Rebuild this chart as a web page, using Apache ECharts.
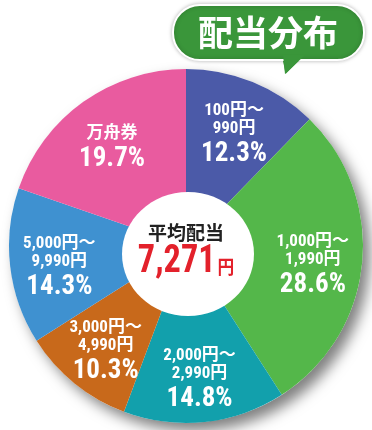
<!DOCTYPE html>
<html>
<head>
<meta charset="utf-8">
<script src="https://cdn.jsdelivr.net/npm/echarts@6/dist/echarts.min.js"></script>
<style>
html,body{margin:0;padding:0;background:#fff;}
#chart{width:372px;height:430px;}
</style>
</head>
<body>
<div id="chart"></div>
<script>
const categories = ['100円～990円', '1,000円～1,990円', '2,000円～2,990円', '3,000円～4,990円', '5,000円～9,990円', '万舟券'];
const shares = [12.3, 28.6, 14.8, 10.3, 14.3, 19.7];
const colors = ['#4b5aa8', '#54b74a', '#12a0ac', '#c8691b', '#3f91d0', '#e95b9f'];
const chartTitle = '配当分布';
const centerTitle = '平均配当';
const avgPayout = '7,271';
const avgUnit = '円';

const NARROW = "'Roboto Condensed', 'Noto Sans CJK JP', sans-serif";
const CJK = "'Noto Sans CJK JP', sans-serif";

const data = categories.map((c, i) => ({ name: c, value: shares[i], itemStyle: { color: colors[i] } }));
const CENTER = [186, 246];
const LABEL_CENTER = [186, 254];
const R = 177;

const chart = echarts.init(document.getElementById('chart'), null, { renderer: 'canvas' });
chart.setOption({
  animation: false,
  series: [
    {
      type: 'pie', silent: true, z: 1,
      center: CENTER, radius: [0, R],
      label: { show: false }, labelLine: { show: false },
      emphasis: { disabled: true },
      data: [{ value: 1, itemStyle: { color: '#fff', shadowColor: 'rgba(0,0,0,0.5)', shadowBlur: 14, shadowOffsetX: 7, shadowOffsetY: 8 } }]
    },
    {
      type: 'pie', silent: true, z: 2,
      center: CENTER, radius: [0, R],
      startAngle: 90, clockwise: true,
      label: { show: false }, labelLine: { show: false },
      emphasis: { disabled: true },
      data: data
    },
    {
      type: 'pie', silent: true, z: 5,
      center: LABEL_CENTER, radius: [72, R],
      startAngle: 90, clockwise: true,
      avoidLabelOverlap: false,
      labelLine: { show: false },
      emphasis: { disabled: true },
      itemStyle: { color: 'rgba(0,0,0,0)' },
      label: {
        show: true, position: 'inside', rotate: 0,
        formatter: function (p) {
          const n = p.name;
          const i = n.indexOf('～');
          const top = i >= 0 ? '{r|' + n.slice(0, i + 1) + '}\n{r|' + n.slice(i + 1) + '}' : '{r|' + n + '}';
          return top + '\n{p|' + p.value.toFixed(1) + '%}';
        },
        rich: {
          r: { color: '#fff', fontFamily: NARROW, fontWeight: 'bold', fontSize: 17, lineHeight: 18, align: 'center' },
          p: { color: '#fff', fontFamily: NARROW, fontWeight: 'bold', fontSize: 27, lineHeight: 32, align: 'center' }
        }
      },
      data: categories.map((c, i) => ({ name: c, value: shares[i] }))
    }
  ],
  graphic: [
    { type: 'ellipse', z: 100, silent: true, shape: { cx: 188, cy: 254, rx: 66, ry: 62 }, style: { fill: '#fff' } },
    { type: 'text', z: 101, silent: true, x: 186, y: 233,
      style: { text: centerTitle, fill: '#222', font: 'bold 19px ' + CJK, align: 'center', verticalAlign: 'middle' } },
    { type: 'text', z: 101, silent: true, x: 186, y: 262, scaleX: 0.88,
      style: {
        text: '{n|' + avgPayout + '}{u|' + avgUnit + '}', align: 'center', verticalAlign: 'middle',
        rich: {
          n: { fill: '#e3212b', fontFamily: NARROW, fontWeight: 'bold', fontSize: 39, verticalAlign: 'bottom' },
          u: { fill: '#e3212b', fontFamily: CJK, fontWeight: 'bold', fontSize: 19, verticalAlign: 'bottom', padding: [0, 0, 5, 2] }
        }
      } },
    { type: 'polygon', z: 110, silent: true, shape: { points: [[281, 56], [307, 54], [285, 76]] },
      style: { fill: '#3a963a', stroke: '#fff', lineWidth: 2 } },
    { type: 'rect', z: 111, silent: true, shape: { x: 173, y: 5, width: 191, height: 55, r: 27 },
      style: { fill: '#3a963a', stroke: '#fff', lineWidth: 2, shadowColor: 'rgba(0,0,0,0.25)', shadowBlur: 4 } },
    { type: 'polygon', z: 112, silent: true, shape: { points: [[283, 55], [305, 55], [285, 74]] },
      style: { fill: '#3a963a' } },
    { type: 'text', z: 113, silent: true, x: 268, y: 33,
      style: { text: chartTitle, fill: '#fff', font: 'bold 35px ' + CJK, align: 'center', verticalAlign: 'middle' } }
  ]
});
</script>
</body>
</html>
